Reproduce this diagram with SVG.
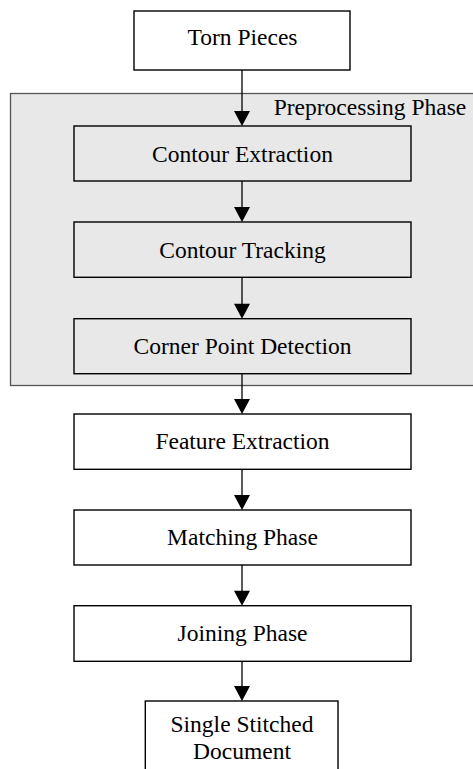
<svg xmlns="http://www.w3.org/2000/svg" width="473" height="769" viewBox="0 0 473 769">
<style>
.box{fill:#fff;stroke:#000;stroke-width:1.4}
.inner{fill:#e8e8e8;stroke:#000;stroke-width:1.4}
.group{fill:#e8e8e8;stroke:#555;stroke-width:1.3}
text{font-family:"Liberation Serif","Times New Roman",serif;font-size:23.5px;fill:#000;text-anchor:middle}
.edge{stroke:#000;stroke-width:1.3;fill:none}
.head{fill:#000}
</style>
<rect width="473" height="769" fill="#fff"/>
<g id="preprocessing">
<rect class="group" x="10.5" y="93.5" width="470" height="292"/>
<text x="370" y="115">Preprocessing Phase</text>
</g>
<g id="torn-pieces">
<rect class="box" x="134" y="11" width="216" height="59"/>
<text x="242.5" y="45">Torn Pieces</text>
</g>
<g id="contour-extraction">
<rect class="inner" x="74" y="126" width="337" height="55"/>
<text x="242.5" y="161.5">Contour Extraction</text>
</g>
<g id="contour-tracking">
<rect class="inner" x="74" y="222" width="337" height="55.3"/>
<text x="242.5" y="258">Contour Tracking</text>
</g>
<g id="corner-point-detection">
<rect class="inner" x="74" y="318.7" width="337" height="55"/>
<text x="242.5" y="354">Corner Point Detection</text>
</g>
<g id="feature-extraction">
<rect class="box" x="74" y="414" width="337" height="55.3"/>
<text x="242.5" y="449.3">Feature Extraction</text>
</g>
<g id="matching-phase">
<rect class="box" x="74" y="510" width="337" height="55"/>
<text x="242.5" y="545">Matching Phase</text>
</g>
<g id="joining-phase">
<rect class="box" x="74" y="605.7" width="337" height="55.6"/>
<text x="242.5" y="640.7">Joining Phase</text>
</g>
<g id="single-stitched-document">
<rect class="box" x="145.3" y="701" width="192.7" height="80"/>
<text x="242" y="731.7">Single Stitched</text>
<text x="242" y="759.3">Document</text>
</g>
<g id="connectors">
<line class="edge" x1="242" y1="70" x2="242" y2="112"/>
<polygon class="head" points="234,111 250,111 242,126"/>
<line class="edge" x1="242" y1="181" x2="242" y2="208"/>
<polygon class="head" points="234,207 250,207 242,222"/>
<line class="edge" x1="242" y1="277.3" x2="242" y2="304"/>
<polygon class="head" points="234,303.7 250,303.7 242,318.7"/>
<line class="edge" x1="242" y1="373.7" x2="242" y2="400"/>
<polygon class="head" points="234,399 250,399 242,414"/>
<line class="edge" x1="242" y1="469.3" x2="242" y2="496"/>
<polygon class="head" points="234,495 250,495 242,510"/>
<line class="edge" x1="242" y1="565" x2="242" y2="591"/>
<polygon class="head" points="234,590.7 250,590.7 242,605.7"/>
<line class="edge" x1="242" y1="661.3" x2="242" y2="687"/>
<polygon class="head" points="234,686 250,686 242,701"/>
</g>
</svg>
